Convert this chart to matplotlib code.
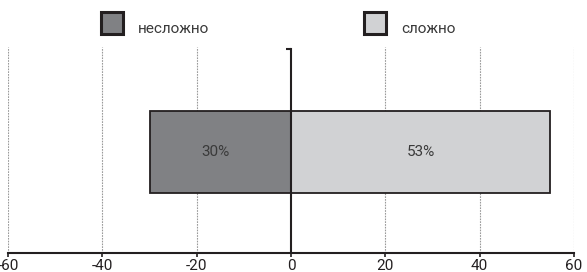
import matplotlib.pyplot as plt
from matplotlib.patches import Rectangle

# data
categories = ['несложно', 'сложно']
values = [-30, 55]
labels = ['30%', '53%']
colors = ['#808184', '#d1d2d4']
ticks = [-60, -40, -20, 0, 20, 40, 60]

plt.rcParams['font.family'] = ['Roboto', 'DejaVu Sans']
edge = '#231f20'

fig = plt.figure(figsize=(5.87, 2.72), dpi=100)
ax = fig.add_axes([8 / 587, 19 / 272, 566 / 587, 206 / 272])

# dotted grid lines
for t in ticks:
    if t != 0:
        ax.axvline(t, color='#9a9a9a', lw=0.8, ls=(0, (1.5, 1)), zorder=0)

# bars
for v, c, lab in zip(values, colors, labels):
    ax.barh(0.49, v, height=0.4, left=0, color=c, edgecolor=edge, lw=1.3, zorder=2)
    ax.text(v * 0.5 - (1 if v < 0 else 0), 0.49, lab, ha='center', va='center',
            fontsize=11, color='#3a3a3a', zorder=3)

# zero axis with small hook at top
ax.axvline(0, ymin=0, ymax=0.99, color=edge, lw=1.5, zorder=4)
ax.plot([-1.1, 0], [0.99, 0.99], color=edge, lw=1.5, zorder=4, solid_capstyle='butt')

ax.set_xlim(-60, 60)
ax.set_ylim(0, 1)
ax.set_xticks(ticks)
ax.set_xticklabels([str(t) for t in ticks], fontsize=11, color=edge)
ax.tick_params(axis='x', length=3, width=1.2, color=edge, pad=1.5)
ax.set_yticks([])
for s in ['top', 'right', 'left']:
    ax.spines[s].set_visible(False)
ax.spines['bottom'].set_color(edge)
ax.spines['bottom'].set_linewidth(1.5)

# legend
leg_x = [101, 364]
for x, c, name in zip(leg_x, colors, categories):
    fig.add_artist(Rectangle((x / 587, (272 - 34) / 272), 22 / 587, 22 / 272,
                             transform=fig.transFigure, facecolor=c,
                             edgecolor=edge, lw=2.2))
    fig.text((x + 37) / 587, (272 - 29) / 272, name, ha='left', va='center',
             fontsize=11, color='#3a3a3a')

fig.savefig('out.png', dpi=100)
